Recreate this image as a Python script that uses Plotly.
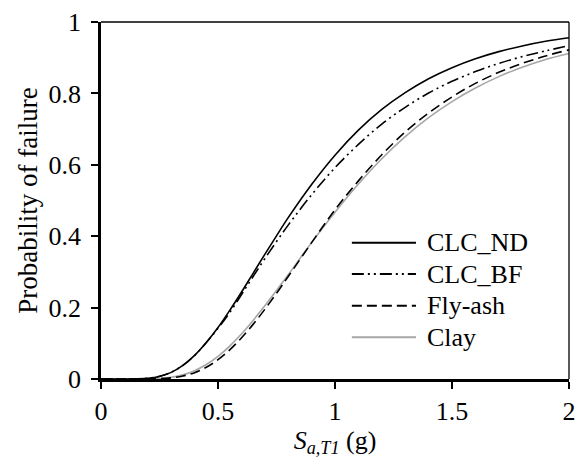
import plotly.graph_objects as go

# Spectral acceleration values (g)
sa = [0, 0.1, 0.15, 0.2, 0.25, 0.3, 0.35, 0.4, 0.45, 0.5, 0.55, 0.6, 0.65, 0.7, 0.75, 0.8,
      0.9, 1.0, 1.1, 1.2, 1.3, 1.4, 1.5, 1.6, 1.7, 1.8, 1.9, 2.0]

clc_nd = [0, 0.0000, 0.0003, 0.0019, 0.0072, 0.0186, 0.038, 0.066, 0.102, 0.144, 0.192, 0.243,
          0.296, 0.349, 0.401, 0.452, 0.545, 0.627, 0.697, 0.755, 0.802, 0.841, 0.872, 0.897,
          0.917, 0.933, 0.946, 0.956]
clc_bf = [0, 0.0000, 0.0003, 0.0020, 0.0075, 0.019, 0.038, 0.066, 0.102, 0.142, 0.186, 0.236,
          0.287, 0.337, 0.385, 0.431, 0.516, 0.592, 0.657, 0.714, 0.761, 0.801, 0.834, 0.861,
          0.884, 0.903, 0.919, 0.934]
fly_ash = [0, 0.0000, 0.0000, 0.0001, 0.0008, 0.0031, 0.0082, 0.0178, 0.0329, 0.0541, 0.0816,
           0.115, 0.153, 0.195, 0.240, 0.287, 0.382, 0.474, 0.555, 0.628, 0.692, 0.745, 0.790,
           0.828, 0.859, 0.884, 0.905, 0.922]
clay = [0, 0.0000, 0.0000, 0.0003, 0.0015, 0.0048, 0.0116, 0.0233, 0.0405, 0.0635, 0.0922,
        0.126, 0.164, 0.205, 0.248, 0.292, 0.382, 0.467, 0.546, 0.617, 0.679, 0.732, 0.777,
        0.815, 0.847, 0.873, 0.895, 0.912]

names = ["CLC_ND", "CLC_BF", "Fly-ash", "Clay"]
series = [clc_nd, clc_bf, fly_ash, clay]
colors = ["#000000", "#000000", "#000000", "#a6a6a6"]
dashes = ["solid", "12px,4px,2px,4px,2px,4px", "10px,5px", "solid"]
widths = [1.6, 1.6, 1.6, 1.6]

x_ticks = [0, 0.5, 1, 1.5, 2]
x_labels = ["0", "0.5", "1", "1.5", "2"]
y_ticks = [0, 0.2, 0.4, 0.6, 0.8, 1]
y_labels = ["0", "0.2", "0.4", "0.6", "0.8", "1"]

FONT = "Liberation Serif"

fig = go.Figure()
order = [3, 2, 1, 0]
for i in order:
    fig.add_trace(go.Scatter(
        x=sa, y=series[i], mode="lines", name=names[i],
        line=dict(color=colors[i], dash=dashes[i], width=widths[i], shape="spline"),
        showlegend=False, hoverinfo="skip"))

leg_y = [0.382, 0.294, 0.205, 0.117]
shapes = []
annotations = []
for i in range(4):
    shapes.append(dict(type="line", xref="paper", yref="paper",
                       x0=0.536, x1=0.673, y0=leg_y[i], y1=leg_y[i],
                       line=dict(color=colors[i], dash=dashes[i], width=2)))
    annotations.append(dict(xref="paper", yref="paper", x=0.692, y=leg_y[i],
                            text=names[i], showarrow=False, xanchor="left", yanchor="middle",
                            font=dict(family=FONT, size=26, color="black")))

shapes.append(dict(type="line", xref="paper", yref="paper", x0=0, x1=1, y0=1, y1=1,
                   line=dict(color="black", width=1.3)))
shapes.append(dict(type="line", xref="paper", yref="paper", x0=1, x1=1, y0=0, y1=1,
                   line=dict(color="black", width=1.3)))

fig.update_layout(
    width=584, height=461,
    margin=dict(l=101, r=8, t=20, b=82),
    paper_bgcolor="white", plot_bgcolor="white",
    font=dict(family=FONT, size=26, color="black"),
    shapes=shapes, annotations=annotations,
    xaxis=dict(range=[0, 2], tickvals=x_ticks, ticktext=x_labels,
               showgrid=False, zeroline=False, showline=True, linecolor="black", linewidth=2.5,
               ticks="outside", ticklen=7, tickwidth=1.5, tickcolor="black",
               tickfont=dict(family=FONT, size=26, color="black"),
               title=dict(text="<i>S</i><sub><i>a,T1</i></sub> (g)",
                          font=dict(family=FONT, size=26, color="black"), standoff=4)),
    yaxis=dict(range=[0, 1], tickvals=y_ticks, ticktext=y_labels,
               showgrid=False, zeroline=False, showline=True, linecolor="black", linewidth=2.5,
               ticks="outside", ticklen=7, tickwidth=1.5, tickcolor="black",
               ticklabelstandoff=5,
               tickfont=dict(family=FONT, size=26, color="black"),
               title=dict(text="Probability of failure",
                          font=dict(family=FONT, size=27, color="black"), standoff=4)),
)

fig.write_html("out.html")
